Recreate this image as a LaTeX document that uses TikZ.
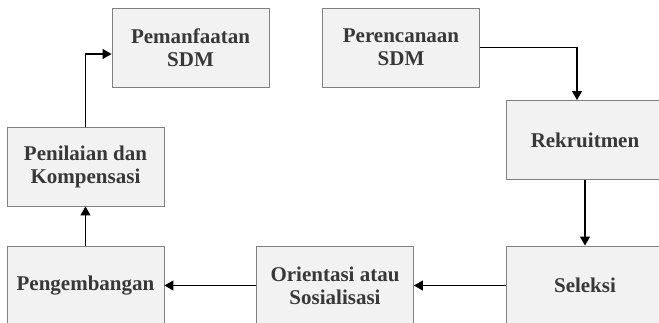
\documentclass[tikz,border=0pt]{standalone}
\usepackage{fontspec}
\setmainfont{Liberation Serif}
\usetikzlibrary{arrows.meta}

\tikzset{
  stage/.style={draw=black!50, fill=black!5, line width=0.9pt, minimum width=157pt,
    minimum height=79pt, inner sep=0pt, align=center, text=black!78,
    font=\bfseries\fontsize{21}{23}\selectfont},
  flow/.style={-{Triangle[length=9pt,width=10pt]}, line width=1.2pt}
}

\begin{document}
\begin{tikzpicture} [x=1pt, y=-1pt]

\useasboundingbox (0,0) rectangle (659,322);
\clip (0,0) rectangle (659,322);

\node [stage] (pem) at (190.5, 47.5) {Pemanfaatan\\SDM};
\node [stage] (per) at (401, 47.5) {Perencanaan\\SDM};
\node [stage] (rek) at (585, 140) {Rekruitmen};
\node [stage] (pen) at (85.5, 166.5) {Penilaian dan\\Kompensasi};
\node [stage] (pgb) at (85.5, 285.5) {Pengembangan};
\node [stage] (ori) at (335, 285.5) {Orientasi atau\\Sosialisasi};
\node [stage] (sel) at (585, 285.5) {Seleksi};

\draw [flow] (per.east) -| ([xshift=-8pt]rek.north);
\draw [flow] (rek) -- (sel);
\draw [flow] (sel) -- (ori);
\draw [flow] (ori) -- (pgb);
\draw [flow] (pgb) -- (pen);
\draw [flow] (pen.north) |- ([yshift=-6.5pt]pem.west);

\end{tikzpicture}
\end{document}
